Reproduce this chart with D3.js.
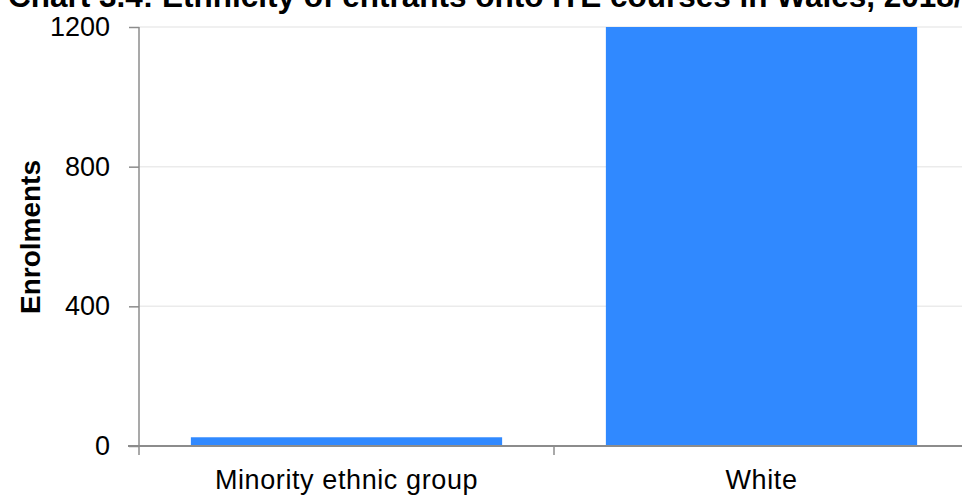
<!DOCTYPE html>
<html>
<head>
<meta charset="utf-8">
<script src="https://cdn.jsdelivr.net/npm/d3@7"></script>
<style>
  body { margin: 0; background: #fff; }
  svg { display: block; font-family: "Liberation Sans", Arial, sans-serif; }
</style>
</head>
<body>
<svg id="chart"></svg>
<script>
// Chart values
const categories = ['Minority ethnic group', 'White'];
const enrolments = [25, 1200];
const yTicks = [0, 400, 800, 1200];
const title = 'Chart 3.4: Ethnicity of entrants onto ITE courses in Wales, 2018/19';

const width = 962;
const height = 497;
const plot = { left: 139, right: 969, top: 27, bottom: 446 };

const svg = d3.select('svg#chart')
    .attr('width', width)
    .attr('height', height);

const xScale = d3.scaleBand()
    .domain(categories)
    .range([plot.left, plot.right])
    .padding(0);

const yScale = d3.scaleLinear()
    .domain([0, 1200])
    .range([plot.bottom, plot.top]);

// gridlines
svg.append('g')
    .selectAll('line')
    .data(yTicks.filter(d => d > 0))
    .enter()
    .append('line')
    .attr('x1', plot.left)
    .attr('x2', width)
    .attr('y1', d => yScale(d))
    .attr('y2', d => yScale(d))
    .attr('stroke', '#ebebeb')
    .attr('stroke-width', 1.5);

// bars
const barFrac = 0.75;
svg.append('g')
    .selectAll('rect')
    .data(categories)
    .enter()
    .append('rect')
    .attr('x', d => xScale(d) + xScale.bandwidth() * (1 - barFrac) / 2)
    .attr('width', xScale.bandwidth() * barFrac)
    .attr('y', (d, i) => yScale(enrolments[i]))
    .attr('height', (d, i) => yScale(0) - yScale(enrolments[i]))
    .attr('fill', '#3089ff');

// y axis
const yAxis = d3.axisLeft(yScale)
    .tickValues(yTicks)
    .tickFormat(d3.format('d'))
    .tickSize(10)
    .tickPadding(19);

const gy = svg.append('g')
    .attr('transform', `translate(${plot.left}, 0)`)
    .call(yAxis);
gy.select('.domain').remove();
gy.append('line')
    .attr('x1', 0).attr('x2', 0)
    .attr('y1', plot.top).attr('y2', plot.bottom)
    .attr('stroke', '#8c8c8c').attr('stroke-width', 1.5);
gy.selectAll('.tick line').attr('stroke', '#8c8c8c').attr('stroke-width', 1.5);
gy.selectAll('.tick text')
    .attr('fill', '#000')
    .style('font-size', '27px');

// x axis
const xAxis = d3.axisBottom(xScale)
    .tickSize(0)
    .tickPadding(24);

const gx = svg.append('g')
    .attr('transform', `translate(0, ${plot.bottom})`)
    .call(xAxis);
gx.select('.domain').remove();
gx.append('line')
    .attr('x1', plot.left - 11).attr('x2', width)
    .attr('y1', 0).attr('y2', 0)
    .attr('stroke', '#8c8c8c').attr('stroke-width', 2);
gx.selectAll('.tick text')
    .attr('fill', '#000')
    .style('font-size', '27px')
    .style('letter-spacing', '0.6px');

// category boundary ticks
gx.selectAll('.bound')
    .data(categories)
    .enter()
    .append('line')
    .attr('x1', d => xScale(d))
    .attr('x2', d => xScale(d))
    .attr('y1', 0)
    .attr('y2', 9)
    .attr('stroke', '#8c8c8c')
    .attr('stroke-width', 1.5);

// y axis label
svg.append('text')
    .attr('transform', `translate(40, 237) rotate(-90)`)
    .attr('text-anchor', 'middle')
    .style('font-size', '28px')
    .style('font-weight', 'bold')
    .text('Enrolments');

// title, cut off at the top edge
svg.append('text')
    .attr('x', 8)
    .attr('y', 7)
    .style('font-size', '31.5px')
    .style('font-weight', 'bold')
    .text(title);
</script>
</body>
</html>
